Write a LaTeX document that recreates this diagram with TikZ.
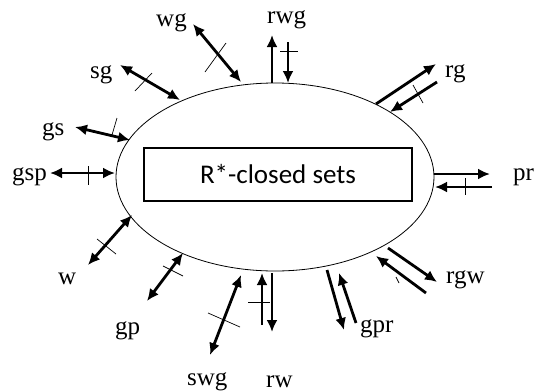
\documentclass[tikz,border=0pt]{standalone}
\usepackage{fontspec}
\setmainfont{Liberation Serif}
\newfontfamily\boxfont{Carlito}
\usetikzlibrary{arrows.meta,shapes.geometric}
\tikzset{
  lab/.style={anchor=base west, inner sep=0pt, font=\fontsize{25}{28}\selectfont},
  arr/.style={line width=2.8pt, -{Latex[length=12pt,width=11pt]}},
  darr/.style={line width=2.8pt, {Latex[length=12pt,width=11pt]}-{Latex[length=12pt,width=11pt]}},
  tick/.style={line width=0.7pt},
}
\begin{document}
\begin{tikzpicture}[x=1pt,y=-1pt]
\useasboundingbox (0,0) rectangle (536,391);
\node (E) [draw, ellipse, line width=0.8pt, minimum width=318pt, minimum height=188pt, inner sep=0pt] at (275,177) {};
\node (R) [draw, line width=1.3pt, minimum width=268pt, minimum height=53pt, inner sep=0pt, font=\boxfont\fontsize{27}{31}\selectfont] at (278,174.5) {R*-closed sets};
% labels
\node[lab] (wg) at (156,26) {wg};
\node[lab] (rwg) at (267,23) {rwg};
\node[lab] (rg) at (445,77) {rg};
\node[lab] (pr) at (513,180) {pr};
\node[lab] (rgw) at (446,283) {rgw};
\node[lab] (gpr) at (360,332) {gpr};
\node[lab] (rw) at (266,387) {rw};
\node[lab] (swg) at (187,385) {swg};
\node[lab] (gp) at (115,334) {gp};
\node[lab] (w) at (58,284) {w};
\node[lab] (gsp) at (12,180) {gsp};
\node[lab] (gs) at (42,135) {gs};
\node[lab] (sg) at (90,78) {sg};
% coordinates
\coordinate (wgA) at (193,24); \coordinate (wgB) at (241,82);
\coordinate (sgA) at (120,65); \coordinate (sgB) at (180,100);
\coordinate (gsA) at (75,127); \coordinate (gsB) at (130,140);
\coordinate (gspA) at (50,173); \coordinate (gspB) at (115,173);
\coordinate (rwgA) at (272,83); \coordinate (rwgB) at (272,35);
\coordinate (rwgC) at (288,42); \coordinate (rwgD) at (288,83);
\coordinate (rgA) at (376,104); \coordinate (rgB) at (436,64);
\coordinate (rgC) at (437,82); \coordinate (rgD) at (390,112);
\coordinate (prA) at (434,174); \coordinate (prB) at (490,174);
\coordinate (prC) at (492,187); \coordinate (prD) at (435,187);
\coordinate (rgwA) at (388,248); \coordinate (rgwB) at (437,282);
\coordinate (rgwC) at (426,293); \coordinate (rgwD) at (376,256);
\coordinate (gprA) at (327,270); \coordinate (gprB) at (344,330);
\coordinate (gprC) at (356,323); \coordinate (gprD) at (339,273);
\coordinate (rwA) at (262,325); \coordinate (rwB) at (262,273);
\coordinate (rwC) at (272,273); \coordinate (rwD) at (272,332);
\coordinate (swgA) at (241,275); \coordinate (swgB) at (210,355);
\coordinate (gpA) at (183,253); \coordinate (gpB) at (147,301);
\coordinate (wA) at (132,215); \coordinate (wB) at (88,265);
% arrows
\draw[darr] (wgA) -- (wgB);
\draw[darr] (sgA) -- (sgB);
\draw[darr] (gsA) -- (gsB);
\draw[darr] (gspA) -- (gspB);
\draw[arr] (rwgA) -- (rwgB);
\draw[arr] (rwgC) -- (rwgD);
\draw[arr] (rgA) -- (rgB);
\draw[arr] (rgC) -- (rgD);
\draw[arr] (prA) -- (prB);
\draw[arr] (prC) -- (prD);
\draw[arr] (rgwA) -- (rgwB);
\draw[arr] (rgwC) -- (rgwD);
\draw[arr] (gprA) -- (gprB);
\draw[arr] (gprC) -- (gprD);
\draw[arr] (rwA) -- (rwB);
\draw[arr] (rwC) -- (rwD);
\draw[darr] (swgA) -- (swgB);
\draw[darr] (gpA) -- (gpB);
\draw[darr] (wA) -- (wB);
% ticks
\draw[tick] (205,72) -- (226,43);
\draw[tick] (135,91) -- (152,73);
\draw[tick] (112,135) -- (117,118);
\draw[tick] (88,166) -- (88,185);
\draw[tick] (280,51) -- (298,51);
\draw[tick] (413,85) -- (423,103);
\draw[tick] (465,178) -- (465,195);
\draw[tick] (396,277) -- (399,283);
\draw[tick] (248,302) -- (270,302);
\draw[tick] (208,313) -- (240,327);
\draw[tick] (163,266) -- (183,276);
\draw[tick] (97,239) -- (116,254);
\end{tikzpicture}
\end{document}
